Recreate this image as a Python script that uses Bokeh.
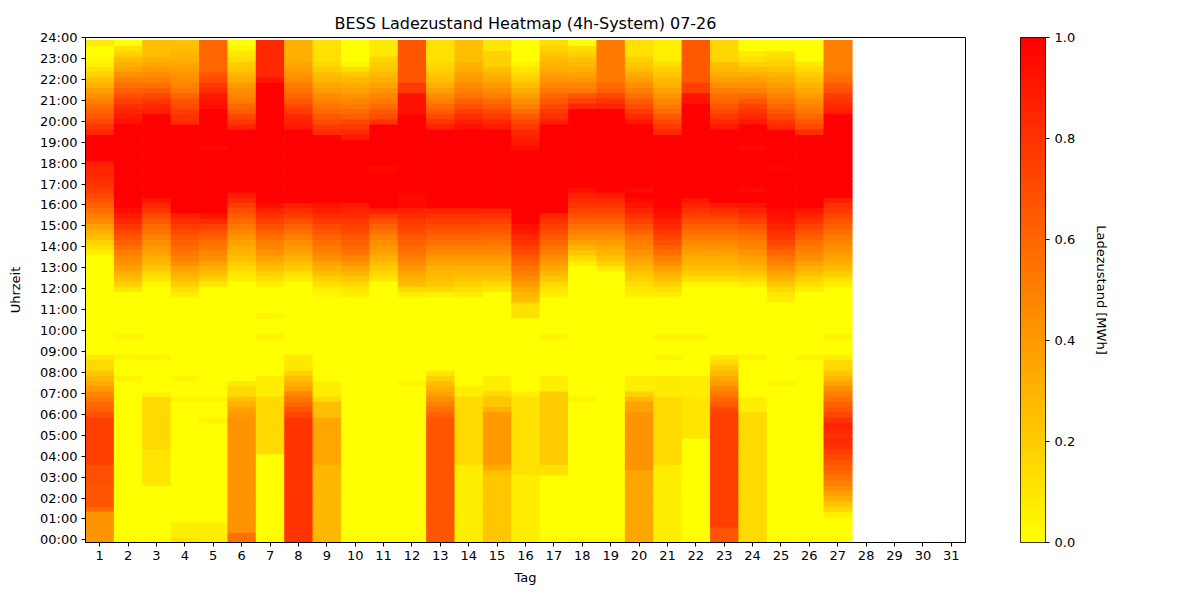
import numpy as np
from bokeh.plotting import figure
from bokeh.models import Range1d, LinearColorMapper, FixedTicker, ColumnDataSource, PrintfTickFormatter
from bokeh.layouts import row
from bokeh.embed import file_html
from bokeh.resources import INLINE

# ---------------- data (state of charge in % of 1 MWh, 96 quarter-hour slots per day, 00:00 .. 23:45)
d01 = [42]*6 + [58] + [67]*4 + [69]*4 + [75]*9 + [69,62,59,53,47,40,34,28,22,15,15,9] + [0]*12 + [0]*7 + [6] + [12,18,25,31,37,44,50,56,62,67,72,76,80,82,84,85,87] + [100]*5 + [85,79,73,67,62,56,50,44,38,31,25,18,12,6,3,1,0,8]
d02 = [0]*31 + [5] + [0]*3 + [5] + [0]*3 + [5] + [0]*8 + [9,18,25,31,37,42,46,50,56,62,67,72,78,84,89,94] + [100]*16 + [93,90,86,81,75,69,62,56,50,43,37,31,25,18,12,0]
d03 = [0]*11 + [10]*7 + [15]*10 + [5] + [0]*6 + [5] + [0]*12 + [0,3,9,15,22,27,31,37,40,44,49,54,58,64,70,78,84,92] + [100]*16 + [88,85,78,72,64,57,50,45,40,35,30] + [25]*3
d04 = [12] + [7]*3 + [0]*23 + [5] + [0]*3 + [5] + [0]*15 + [7] + [12,20,25,31,37,44,50,54,58,62,66,71,76,81,87] + [100]*17 + [82,80,76,70,67,60,53,49,45,42,38,35,31,29,26,24]
d05 = [7]*4 + [0]*19 + [5] + [0]*3 + [5] + [0]*20 + [0,10,18,25,31,37,44,47,53,56,62,68,75,83,92] + [100]*12 + [96] + [100]*7 + [94,92,90,82,78,70,67] + [60]*6
d06 = [56]*2 + [42]*22 + [40,37,31,25,15,15,9] + [0]*17 + [0,0,6,10,15,20,25,29,33,37,42,47,52,58,64,70,76,83,90] + [100]*12 + [87,78,72,64,60,52,48,44,40,33,29,23,20,13,10,4,0]
d07 = [0]*17 + [15]*11 + [7]*4 + [0]*7 + [5] + [0]*3 + [5] + [0]*4 + [0,7,12,18,25,31,37,42,47,50,56,62,68,74,80,87,94] + [100]*23 + [92] + [84]*7
d08 = [80]*24 + [73,67,60,54,47,37,31,25,18] + [9]*3 + [0]*12 + [0,0,7,12,20,25,31,36,40,44,50,56,62,68,75,82,88] + [100]*14 + [90,87,85,78,72,66,60,55,52,46,42,38,35] + [31]*4
d09 = [28]*15 + [35]*9 + [25]*3 + [15] + [7]*3 + [0]*16 + [3] + [7,12,18,25,31,37,44,48,52,56,61,66,71,77,82,88,92] + [100]*13 + [82,78,70,65,59,54,49,45,39,35,29,26,20,16] + [12]*4
d10 = [0]*47 + [7] + [9,15,22,28,35,42,48,54,58,62,66,70,74,78,82,86,90] + [100]*12 + [90,85,78,72,64,58,52,48,42,37,32,28,22,14,4] + [0]*4
d11 = [0]*48 + [0,0,9,15,20,25,31,36,40,44,49,55,61,68,76,88] + [100]*7 + [96] + [100]*8 + [80,70,65,58,52,47,42,36,32,27,23,20,16] + [8]*3
d12 = [0]*30 + [5] + [0]*16 + [7] + [15,25,30,35,40,45,50,54,58,62,66,70,74,78,83,87] + [96]*3 + [100]*15 + [93]*4 + [77]*2 + [67]*8
d13 = [67]*24 + [62,56,50,44,37,31,25,18,10] + [0]*14 + [5] + [15,22,25,28,31,36,40,46,50,56,60,66,70,76,80,87] + [100]*15 + [87,80,72,64,58,50,45,38,31,26,22,18,15] + [12]*4
d14 = [7]*15 + [15]*13 + [7]*2 + [0]*17 + [7] + [12,18,22,27,31,36,40,46,50,56,60,66,70,76,80,87] + [100]*15 + [94,88,82,76,68,62,55,50,45,40,37,33,30] + [25]*4
d15 = [22]*13 + [25,33] + [40]*10 + [31] + [22]*2 + [15] + [7]*3 + [0]*16 + [9,15,22,27,31,36,40,46,50,55,59,65,69,75,80,87] + [100]*15 + [90,84,78,72,64,58,50,45,40,34,29,25] + [18]*3 + [10]*2
d16 = [7]*13 + [12]*15 + [7] + [0]*14 + [12]*3 + [25,28] + [33,40,44,50,54,60,64,70,74,80,84,90,93] + [100]*14 + [94,91,88,84,78,72,65,58,50,44,38,32,26,20,15,10,5] + [0]*4
d17 = [0]*13 + [12]*2 + [20]*14 + [7]*3 + [0]*7 + [5] + [0]*7 + [7] + [10,15,22,28,34,40,44,50,55,60,65,70,75,80,85] + [100]*17 + [88,82,78,72,65,60,53,48,42,38,33,30,26,22,18,13]
d18 = [4] + [0]*26 + [5] + [0]*20 + [0]*5 + [7,15,22,30,37,44,50,56,62,68,73,79,83,87,94] + [100]*15 + [85,75,67,53,48,42,36,32,28,24,18,14,0]
d19 = [4] + [0]*47 + [0]*4 + [8,18,24,29,33,38,44,50,56,62,68,74,79,84,90] + [100]*16 + [87,80,73,62,58] + [53]*8
d20 = [35]*14 + [42]*11 + [37]*2 + [28,18] + [7]*3 + [0]*15 + [7] + [9,13,18,22,28,33,37,42,47,50,55,62,68,74,80] + [87,92,96,100,96] + [100]*12 + [92,84,78,70,64,56,50,44,38,32,26,22,18] + [12]*3
d21 = [7]*15 + [15]*13 + [8]*4 + [0]*3 + [5] + [0]*3 + [5] + [0]*7 + [7] + [12,18,25,31,37,44,50,56,62,69,74,79,84,88,92,96] + [100]*14 + [84,78,72,66,58,52,47,42,36,31,27,23,18,14] + [6]*4
d22 = [0]*20 + [10]*8 + [7]*4 + [0]*7 + [5] + [0]*8 + [0,4,12,20,25,29,33,37,42,47,52,57,62,68,74,80,86,92] + [100]*18 + [92]*2 + [75]*2 + [65]*8
d23 = [67]*3 + [75]*22 + [72,65,59,53,47,40,34,28,22,15,9] + [0]*12 + [0,4,12,20,25,29,33,37,42,47,52,57,63,69,75,82,90] + [100]*14 + [90,84,78,72,65,60,56,50,44,38,32,28,25] + [16]*4
d24 = [15]*25 + [7]*3 + [0]*7 + [5] + [0]*12 + [0,7,15,22,28,33,37,42,47,50,55,61,67,74,80,87,92] + [100]*2 + [96] + [100]*7 + [96] + [100]*4 + [90,85,80,74,66,58,50,44,38,32,25,18,12,8] + [0]*2
d25 = [0]*30 + [5] + [0]*15 + [7,9] + [15,22,29,35,42,48,54,60,67,73,78,82,86,90,93,96] + [100]*7 + [97] + [100]*7 + [84,79,72,66,60,54,49,44,39,34,29,24,19,15,12] + [0]*2
d26 = [0]*35 + [5] + [0]*12 + [7,12,18,25,31,37,44,48,52,56,62,68,74,80,86,92] + [100]*14 + [82,72,66,60,54,49,44,39,34,29,25,20,15,9] + [0]*4
d27 = [0]*5 + [7,16,23,31,37,44,50,54,59,62,67,72,75,81,84,81,85,87,81,73,67,62,56,50,44,37,28,22] + [15]*2 + [7] + [0]*3 + [5] + [0]*8 + [0,7,12,20,25,31,35,40,44,48,53,57,62,67,72,77,82,88] + [100]*16 + [88,85,80,76,69,65,58,55] + [50]*6

days_with_data = [d01, d02, d03, d04, d05, d06, d07, d08, d09, d10, d11, d12, d13, d14,
                  d15, d16, d17, d18, d19, d20, d21, d22, d23, d24, d25, d26, d27]
all_days = list(range(1, 32))
hour_ticks = list(range(0, 25))
hour_labels = {h: f"{h:02d}:00" for h in hour_ticks}
cbar_ticks = [0.0, 0.2, 0.4, 0.6, 0.8, 1.0]

title_text = "BESS Ladezustand Heatmap (4h-System) 07-26"

# ---------------- build cell table
xs, ys, vs = [], [], []
for i, prof in enumerate(days_with_data):
    prof = list(prof)[:96] + [prof[-1]] * max(0, 96 - len(prof))
    for slot, val in enumerate(prof):
        xs.append(all_days[i])
        ys.append(slot / 4.0)
        vs.append(val / 100.0)
src = ColumnDataSource(dict(x=xs, y=ys, v=vs))

palette = [f"#ff{255 - i:02x}00" for i in range(256)]  # autumn_r: yellow -> red
mapper = LinearColorMapper(palette=palette, low=0.0, high=1.0)

FONT = "DejaVu Sans"

p = figure(width=1000, height=600,
           x_range=Range1d(0.5, 31.5), y_range=Range1d(-0.125, 24.0),
           output_backend="svg", toolbar_location=None,
           min_border_left=85, min_border_right=35, min_border_top=37, min_border_bottom=58,
           title=title_text)
p.rect(x="x", y="y", width=1, height=0.25, source=src,
       fill_color={"field": "v", "transform": mapper}, line_color=None, dilate=True)

p.title.align = "center"
p.title.text_font = FONT
p.title.text_font_size = "16px"
p.title.text_font_style = "normal"
p.title.text_color = "black"
p.title.standoff = 9

p.xgrid.visible = False
p.ygrid.visible = False
p.outline_line_color = "black"
p.outline_line_width = 1
p.outline_line_alpha = 1.0
p.background_fill_color = "white"
p.border_fill_color = "white"

p.xaxis.ticker = FixedTicker(ticks=all_days)
p.yaxis.ticker = FixedTicker(ticks=hour_ticks)
p.yaxis.major_label_overrides = hour_labels
p.xaxis.axis_label = "Tag"
p.yaxis.axis_label = "Uhrzeit"
for ax in (p.xaxis[0], p.yaxis[0]):
    ax.minor_tick_line_color = None
    ax.major_tick_in = 0
    ax.major_tick_out = 4
    ax.major_tick_line_color = "black"
    ax.axis_line_color = "black"
    ax.major_label_text_font = FONT
    ax.major_label_text_font_size = "13px"
    ax.major_label_text_color = "black"
    ax.axis_label_text_font = FONT
    ax.axis_label_text_font_size = "13px"
    ax.axis_label_text_font_style = "normal"
    ax.axis_label_text_color = "black"
    ax.major_label_standoff = 4
p.yaxis.axis_label_standoff = 14
p.xaxis.axis_label_standoff = 7

# ---------------- colour bar as its own small figure
cb = figure(width=200, height=600, x_range=Range1d(0, 1), y_range=Range1d(0, 1),
            output_backend="svg", toolbar_location=None,
            x_axis_location=None, y_axis_location="right",
            min_border_left=20, min_border_right=155, min_border_top=37, min_border_bottom=58)
grad = np.linspace(0.0, 1.0, 512).reshape(512, 1)
cb.image(image=[grad], x=0, y=0, dw=1, dh=1, color_mapper=mapper)
cb.xgrid.visible = False
cb.ygrid.visible = False
cb.outline_line_color = "black"
cb.outline_line_width = 1
cb.outline_line_alpha = 1.0
cb.border_fill_color = "white"
ay = cb.yaxis[0]
ay.ticker = FixedTicker(ticks=cbar_ticks)
ay.formatter = PrintfTickFormatter(format="%.1f")
ay.minor_tick_line_color = None
ay.major_tick_in = 0
ay.major_tick_out = 4
ay.major_tick_line_color = "black"
ay.axis_line_color = None
ay.major_label_text_font = FONT
ay.major_label_text_font_size = "13px"
ay.major_label_text_color = "black"
ay.major_label_standoff = 5
ay.axis_label = "Ladezustand [MWh]"
ay.axis_label_text_font = FONT
ay.axis_label_text_font_size = "13px"
ay.axis_label_text_font_style = "normal"
ay.axis_label_text_color = "black"
ay.axis_label_standoff = 16

layout = row(p, cb)
open("out.html", "w").write(file_html(layout, INLINE))
